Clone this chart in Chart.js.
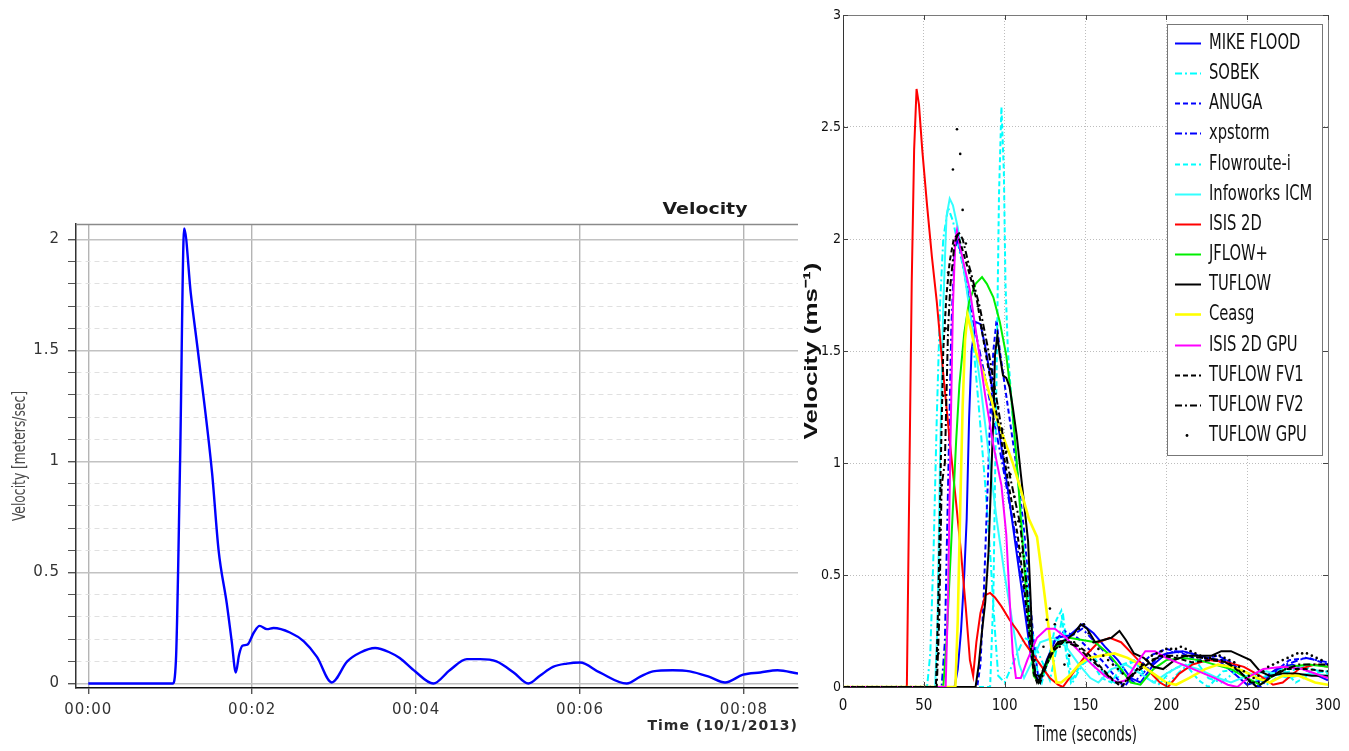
<!DOCTYPE html>
<html>
<head>
<meta charset="utf-8">
<script src="https://cdn.jsdelivr.net/npm/chart.js@4.4.1/dist/chart.umd.min.js"></script>
<style>
  body { margin: 0; background: #fff; }
  #gauge { position: absolute; left: 0; top: 180px; }
  #models { position: absolute; left: 800px; top: 0; }
</style>
</head>
<body>
<canvas id="gauge" width="800" height="571"></canvas>
<canvas id="models" width="549" height="751"></canvas>
<script>
// ---- left panel: measured velocity, x in minutes ----
const gaugeTitle = "Velocity";
const gaugeYTitle = "Velocity [meters/sec]";
const gaugeTimeLabels = ["00:00", "00:02", "00:04", "00:06", "00:08"];
const gaugeVelocityLabels = ["0", "0.5", "1", "1.5", "2"];
const gaugeVelocity = [
  [0, 0], [1.03, 0], [1.07, 0.11], [1.12, 1.0], [1.17, 2.05], [1.25, 1.76], [1.34, 1.49],
  [1.51, 0.95], [1.59, 0.6], [1.69, 0.36], [1.75, 0.19], [1.8, 0.05], [1.84, 0.13], [1.88, 0.17],
  [1.94, 0.175], [2.02, 0.23], [2.09, 0.26], [2.18, 0.245], [2.26, 0.25], [2.46, 0.23], [2.63, 0.19],
  [2.79, 0.12], [2.97, 0.005], [3.16, 0.1], [3.32, 0.14], [3.5, 0.16], [3.68, 0.14], [3.8, 0.115],
  [3.99, 0.054], [4.21, 0], [4.41, 0.06], [4.62, 0.11], [4.78, 0.11], [4.98, 0.1], [5.19, 0.05],
  [5.37, 0], [5.51, 0.035], [5.67, 0.075], [5.84, 0.09], [6.0, 0.095], [6.24, 0.05], [6.57, 0],
  [6.73, 0.03], [6.89, 0.055], [7.13, 0.06], [7.34, 0.055], [7.58, 0.03], [7.77, 0.005],
  [7.99, 0.04], [8.2, 0.05], [8.41, 0.06], [8.66, 0.045]
];

// ---- right panel: model results, x in seconds ----
const modelXTitle = "Time (seconds)";
const modelYTitle = "Velocity (ms⁻¹)";
const modelVelocityLabels = ["0", "0.5", "1", "1.5", "2", "2.5", "3"];
const modelNames = ["MIKE FLOOD", "SOBEK", "ANUGA", "xpstorm", "Flowroute-i", "Infoworks ICM", "ISIS 2D",
  "JFLOW+", "TUFLOW", "Ceasg", "ISIS 2D GPU", "TUFLOW FV1", "TUFLOW FV2", "TUFLOW GPU"];

const mikeFlood = [[0,0],[69,0],[71,0.08],[73,0.25],[75,0.5],[76.5,0.75],[78,1.2],[79.5,1.5],[82,1.63],[85,1.62],[88,1.52],[92,1.35],[97,1.12],[102,0.88],[107,0.62],[112,0.36],[116,0.15],[119,0.05],[122,0.02],[126,0.12],[132,0.22],[140,0.23],[148,0.28],[155,0.24],[162,0.18],[170,0.12],[178,0.04],[184,0.02],[192,0.1],[200,0.15],[210,0.16],[220,0.14],[232,0.12],[242,0.06],[250,0.01],[258,0.03],[268,0.08],[278,0.1],[288,0.07],[300,0.03]];
const sobek = [[0,0],[52,0],[54,0.15],[56,0.6],[58,1.2],[60,1.7],[62,2.0],[65,2.14],[68,2.08],[72,1.95],[78,1.75],[84,1.25],[88,0.9],[91,0.6],[94,0.25],[96,0.05],[100,0.02],[106,0.12],[112,0.22],[118,0.2],[124,0.1],[128,0.03],[133,0.2],[136,0.33],[139,0.15],[142,0.02],[148,0.1],[155,0.14],[162,0.05],[168,0.02],[175,0.1],[183,0.12],[192,0.05],[200,0.01],[210,0.08],[218,0.12],[226,0.04],[234,0.02],[245,0.08],[255,0.05],[262,0.01],[272,0.06],[285,0.09],[300,0.06]];
const anuga = [[0,0],[83,0],[85,0.1],[87,0.4],[89,0.8],[91,1.2],[93,1.5],[95,1.64],[97,1.5],[100,1.35],[104,1.15],[108,0.95],[112,0.7],[115,0.45],[118,0.2],[121,0.03],[124,0.05],[130,0.2],[137,0.25],[145,0.22],[152,0.17],[160,0.12],[168,0.05],[174,0],[182,0.08],[190,0.14],[200,0.17],[210,0.15],[220,0.12],[232,0.14],[242,0.1],[250,0.03],[258,0],[266,0.06],[276,0.12],[288,0.13],[300,0.1]];
const xpstorm = [[0,0],[61,0],[63,0.2],[65,0.9],[67,1.6],[69,1.95],[71,2.0],[74,1.9],[78,1.72],[83,1.55],[88,1.38],[93,1.2],[98,1.02],[103,0.82],[108,0.62],[112,0.42],[115,0.25],[118,0.08],[121,0.02],[126,0.1],[133,0.2],[140,0.22],[148,0.26],[156,0.2],[164,0.14],[172,0.07],[180,0.02],[188,0.08],[196,0.14],[206,0.16],[216,0.15],[226,0.12],[238,0.12],[248,0.05],[256,0],[264,0.05],[274,0.1],[286,0.13],[300,0.11]];
const flowroute = [[0,0],[91,0],[93,0.4],[95,1.4],[96.5,2.2],[98,2.59],[99.5,2.3],[100.5,1.8],[102,1.5],[105,1.2],[108,0.95],[111,0.7],[114,0.45],[117,0.25],[120,0.08],[123,0.02],[128,0.15],[132,0.3],[135,0.34],[138,0.15],[141,0.02],[147,0.1],[153,0.12],[160,0.04],[166,0.02],[173,0.1],[180,0.12],[188,0.04],[195,0.01],[204,0.08],[212,0.1],[220,0.03],[226,0],[235,0.07],[245,0.08],[252,0.02],[262,0.05],[272,0.08],[280,0.02],[290,0.06],[300,0.07]];
const infoworks = [[0,0],[57,0],[58.5,0.3],[60,1.0],[62,1.7],[64,2.1],[66,2.18],[68,2.15],[71,2.05],[75,1.85],[80,1.6],[85,1.35],[90,1.05],[95,0.75],[100,0.5],[105,0.28],[109,0.1],[112,0.04],[116,0.1],[122,0.2],[130,0.22],[138,0.18],[146,0.1],[153,0.04],[158,0.02],[166,0.08],[175,0.1],[184,0.06],[192,0.02],[200,0.06],[210,0.1],[220,0.08],[232,0.04],[240,0.02],[250,0.05],[262,0.07],[275,0.04],[288,0.06],[300,0.05]];
const isis2d = [[0,0],[39.5,0],[41,0.9],[42.5,1.8],[44,2.4],[45.5,2.67],[47,2.6],[49,2.4],[52,2.15],[55,1.92],[58,1.72],[62,1.4],[66,1.1],[70,0.82],[73,0.6],[76,0.35],[78.5,0.12],[80.5,0.05],[82.5,0.2],[85,0.33],[88,0.41],[91,0.42],[94,0.4],[98,0.36],[103,0.3],[108,0.25],[113,0.19],[118,0.14],[123,0.09],[128,0.04],[133,0.01],[136,0],[142,0.06],[150,0.14],[158,0.2],[165,0.22],[172,0.2],[180,0.14],[188,0.08],[196,0.02],[201,0],[208,0.06],[216,0.1],[226,0.12],[238,0.11],[248,0.09],[258,0.05],[266,0.01],[272,0.02],[282,0.08],[292,0.1],[300,0.09]];
const jflow = [[0,0],[62,0],[64,0.2],[66,0.5],[68,0.8],[70,1.1],[72,1.35],[75,1.58],[78,1.72],[82,1.8],[86,1.83],[89,1.8],[93,1.74],[97,1.63],[101,1.48],[104,1.3],[107,1.05],[110,0.75],[113,0.45],[116,0.2],[118,0.05],[121,0.02],[126,0.1],[132,0.18],[140,0.22],[148,0.21],[156,0.2],[164,0.15],[172,0.08],[178,0.02],[184,0.01],[192,0.08],[200,0.12],[210,0.13],[220,0.12],[230,0.1],[240,0.08],[250,0.04],[258,0.01],[266,0.05],[276,0.09],[288,0.1],[300,0.09]];
const tuflow = [[0,0],[82,0],[84,0.1],[86,0.25],[88,0.38],[90,0.6],[91.5,0.9],[93,1.2],[94,1.48],[95.5,1.57],[97,1.48],[99,1.39],[101,1.38],[103,1.34],[105,1.25],[107.5,1.12],[110,0.95],[112,0.82],[114.5,0.65],[116,0.4],[117.5,0.12],[119,0.05],[121,0.02],[124,0.08],[128,0.15],[133,0.2],[138,0.21],[143,0.24],[147,0.28],[151,0.26],[156,0.2],[161,0.21],[166,0.22],[171,0.25],[175,0.21],[180,0.15],[186,0.13],[192,0.09],[198,0.08],[205,0.12],[212,0.14],[220,0.14],[228,0.14],[234,0.16],[240,0.16],[246,0.14],[252,0.12],[258,0.07],[264,0.05],[272,0.06],[280,0.06],[290,0.05],[300,0.05]];
const ceasg = [[0,0],[69.5,0],[71,0.3],[72.5,0.8],[74,1.25],[75.5,1.55],[77,1.66],[79,1.6],[82,1.5],[86,1.42],[91,1.3],[96,1.18],[101,1.08],[105,1.0],[110,0.88],[115,0.75],[120,0.67],[124,0.45],[128,0.22],[132,0.02],[135,0.02],[140,0.05],[146,0.1],[152,0.13],[160,0.14],[168,0.15],[176,0.13],[184,0.1],[192,0.06],[200,0.02],[206,0.01],[214,0.04],[224,0.08],[232,0.1],[240,0.09],[248,0.07],[256,0.04],[264,0.02],[272,0.05],[282,0.05],[292,0.02],[300,0.01]];
const isis2dGpu = [[0,0],[63.5,0],[65,0.4],[66.5,1.1],[68,1.7],[69.5,2.0],[70.5,2.04],[72,1.98],[75,1.88],[78.5,1.77],[83,1.55],[88,1.3],[93,1.08],[98,0.9],[101,0.68],[103,0.4],[105,0.15],[107,0.04],[110,0.04],[114,0.12],[120,0.22],[126,0.26],[131,0.26],[138,0.22],[146,0.16],[154,0.1],[162,0.05],[170,0.02],[175,0.03],[181,0.1],[187,0.16],[193,0.16],[200,0.13],[210,0.1],[220,0.07],[230,0.04],[238,0.01],[244,0],[252,0.05],[260,0.08],[272,0.09],[284,0.08],[292,0.06],[300,0.04]];
const tuflowFv1 = [[0,0],[57.5,0],[59,0.4],[60.5,1.0],[62,1.5],[64,1.75],[66,1.9],[68.5,2.0],[71,2.02],[74,1.95],[78,1.85],[83,1.72],[88,1.5],[93,1.3],[98,1.1],[103,0.88],[108,0.68],[112,0.45],[115,0.25],[118,0.06],[120,0.02],[124,0.08],[130,0.16],[136,0.2],[142,0.2],[150,0.16],[158,0.1],[166,0.04],[172,0],[180,0.06],[188,0.1],[196,0.14],[206,0.13],[216,0.11],[228,0.12],[238,0.11],[248,0.05],[256,0],[264,0.04],[274,0.08],[286,0.08],[300,0.07]];
const tuflowFv2 = [[0,0],[58,0],[59.5,0.3],[61,0.9],[63,1.0],[65,1.6],[66.5,1.8],[69,1.98],[71.5,2.03],[74,2.0],[78,1.88],[84.5,1.7],[90,1.5],[97,1.2],[103,0.95],[109.5,0.73],[113,0.5],[116,0.25],[119,0.06],[122,0.02],[126,0.1],[132,0.19],[138,0.2],[145,0.18],[152,0.13],[160,0.08],[168,0.02],[174,0.02],[182,0.08],[190,0.12],[200,0.14],[210,0.14],[222,0.13],[234,0.12],[244,0.08],[252,0.02],[260,0.02],[270,0.07],[282,0.1],[300,0.1]];
const tuflowGpu = [[0,0],[3,0],[6,0],[9,0],[12,0],[15,0],[18,0],[21,0],[24,0],[27,0],[30,0],[33,0],[36,0],[39,0],[42,0],[45,0],[48,0],[51,0],[54,0],[57,0],
  [59,0.15],[60,0.5],[61,0.9],[62,1.3],[63.5,1.6],[65,1.85],[68,2.31],[70.5,2.49],[72.5,2.38],[74,2.13],
  [76,1.98],[78.5,1.86],[81,1.77],[83.5,1.7],[86,1.6],[88.5,1.5],[91,1.42],[93.5,1.34],[96,1.25],[98.5,1.15],[101,1.05],[103.5,0.95],[106,0.85],[108.5,0.74],[111,0.6],[113.5,0.45],[116,0.3],[118.5,0.12],
  [121,0.05],[124,0.18],[126,0.3],[128,0.35],[131,0.28],[134,0.18],[137,0.1],[140,0.14],[143,0.2],[146,0.26],[149,0.28],[152,0.24],[155,0.2],[158,0.17],[161,0.14],[164,0.12],[167,0.1],[170,0.08],[173,0.06],[176,0.04],[179,0.05],[182,0.08],[185,0.1],[188,0.12],[191,0.14],[194,0.15],[197,0.16],[200,0.17],[203,0.17],[206,0.17],[209,0.18],[212,0.17],[215,0.16],[218,0.15],[221,0.14],[224,0.13],[227,0.13],[230,0.14],[233,0.14],[236,0.13],[239,0.12],[242,0.11],[245,0.09],[248,0.07],[251,0.05],[254,0.04],[257,0.05],[260,0.07],[263,0.09],[266,0.1],[269,0.11],[272,0.12],[275,0.13],[278,0.14],[281,0.15],[284,0.15],[287,0.15],[290,0.14],[293,0.13],[296,0.12],[300,0.1]];

const modelSeries = [mikeFlood, sobek, anuga, xpstorm, flowroute, infoworks, isis2d, jflow, tuflow, ceasg, isis2dGpu, tuflowFv1, tuflowFv2, tuflowGpu];

// line styles, matlab-ish
const DASH = [5, 3], DASHDOT = [7, 3, 2, 3];
const modelStyle = [
  { color: "#0000ff", dash: [] }, { color: "#00ffff", dash: DASHDOT }, { color: "#0000ff", dash: DASH },
  { color: "#0000ff", dash: DASHDOT }, { color: "#00ffff", dash: DASH }, { color: "#33ffff", dash: [] },
  { color: "#ff0000", dash: [] }, { color: "#00ee00", dash: [] }, { color: "#000000", dash: [] },
  { color: "#ffff00", dash: [], width: 2.6 }, { color: "#ff00ff", dash: [] }, { color: "#000000", dash: DASH },
  { color: "#000000", dash: DASHDOT }, { color: "#000000", dots: true }
];

const narrow = '"Liberation Sans Narrow", "Arial Narrow", "DejaVu Sans Condensed", "Liberation Sans", sans-serif';
const wide = '"DejaVu Sans", Verdana, sans-serif';
const isMajor = (c) => c.tick && Math.round(c.tick.value * 10) % 5 === 0;

// squeeze/stretch text along its baseline to a given length
function fitText(ctx, text, x, y, len, rotate) {
  ctx.save();
  ctx.translate(x, y);
  if (rotate) ctx.rotate(-Math.PI / 2);
  ctx.scale(len / ctx.measureText(text).width, 1);
  ctx.textAlign = "center";
  ctx.textBaseline = "middle";
  ctx.fillText(text, 0, 0);
  ctx.restore();
}

// top border, bold title and y title of the left panel
const gaugeFrame = {
  id: "gaugeFrame",
  beforeDraw(chart) { chart.ctx.letterSpacing = "1px"; },
  afterDraw(chart) {
    const { ctx, chartArea: a } = chart;
    ctx.save();
    ctx.strokeStyle = "#8a8a8a";
    ctx.lineWidth = 1.5;
    ctx.beginPath();
    ctx.moveTo(a.left, a.top + 0.5);
    ctx.lineTo(a.right, a.top + 0.5);
    ctx.stroke();
    ctx.letterSpacing = "0px";
    ctx.font = "bold 15px " + wide;
    ctx.fillStyle = "#1a1a1a";
    fitText(ctx, gaugeTitle, a.right - 93, a.top - 14, 85, false);
    ctx.font = "18px " + narrow;
    ctx.fillStyle = "#4a4a4a";
    fitText(ctx, gaugeYTitle, 20, (a.top + a.bottom) / 2, 130, true);
    ctx.restore();
  }
};

new Chart(document.getElementById("gauge"), {
  type: "line",
  data: {
    datasets: [{
      label: gaugeTitle,
      data: gaugeVelocity,
      borderColor: "#0000ff",
      borderWidth: 2.4,
      pointRadius: 0,
      cubicInterpolationMode: "monotone"
    }]
  },
  options: {
    responsive: false,
    animation: false,
    layout: { padding: { top: 44, right: 2, left: 0, bottom: 0 } },
    plugins: { legend: { display: false }, tooltip: { enabled: false } },
    scales: {
      x: {
        type: "linear",
        min: -0.15,
        max: 8.66,
        ticks: {
          stepSize: 2,
          includeBounds: false,
          autoSkip: false,
          maxRotation: 0,
          color: "#333",
          padding: 7,
          font: { family: wide, size: 15 },
          callback: (v) => gaugeTimeLabels[Math.round(v / 2)] ?? ""
        },
        grid: { color: "#b4b4b4", lineWidth: 1.4, tickColor: "#555", tickLength: 6 },
        border: { color: "#111", width: 1.5 },
        title: {
          display: true,
          text: "Time (10/1/2013)",
          align: "end",
          color: "#2a2a2a",
          font: { family: wide, size: 14, weight: "bold" },
          padding: { top: 0, bottom: 16 }
        },
        afterFit(s) { s.height = 63; s.paddingLeft = 0; s.paddingRight = 0; }
      },
      y: {
        min: -0.02,
        max: 2.07,
        ticks: {
          stepSize: 0.1,
          includeBounds: false,
          autoSkip: false,
          color: "#333",
          padding: 8,
          font: { family: wide, size: 15 },
          callback: (v) => {
            const k = Math.round(v * 10);
            return k % 5 === 0 ? gaugeVelocityLabels[k / 5] : "";
          }
        },
        grid: {
          color: (c) => isMajor(c) ? "#c2c2c2" : "#e0e0e0",
          lineWidth: (c) => isMajor(c) ? 1.4 : 1,
          tickColor: "#555",
          tickLength: 8
        },
        border: { color: "#333", width: 1.5, dash: (c) => isMajor(c) ? [] : [5, 4] },
        afterFit(s) { s.width = 76; s.paddingTop = 0; s.paddingBottom = 0; }
      }
    }
  },
  plugins: [gaugeFrame]
});

// box, inward ticks, axis titles and legend for the right panel
const modelFrame = {
  id: "modelFrame",
  afterDraw(chart) {
    const { ctx, chartArea: a, scales: { x, y } } = chart;
    ctx.save();
    ctx.strokeStyle = "#7a7a7a";
    ctx.lineWidth = 1;
    ctx.beginPath();
    ctx.moveTo(a.left, a.top + 0.5);
    ctx.lineTo(a.right + 0.5, a.top + 0.5);
    ctx.lineTo(a.right + 0.5, a.bottom);
    ctx.stroke();

    ctx.strokeStyle = "#444";
    ctx.beginPath();
    y.ticks.forEach((t) => {
      const py = Math.round(y.getPixelForValue(t.value)) + 0.5;
      ctx.moveTo(a.left, py); ctx.lineTo(a.left + 5, py);
      ctx.moveTo(a.right, py); ctx.lineTo(a.right - 5, py);
    });
    x.ticks.forEach((t) => {
      const px = Math.round(x.getPixelForValue(t.value)) + 0.5;
      ctx.moveTo(px, a.bottom); ctx.lineTo(px, a.bottom - 5);
      ctx.moveTo(px, a.top); ctx.lineTo(px, a.top + 5);
    });
    ctx.stroke();

    // axis titles
    ctx.fillStyle = "#111";
    ctx.font = "22px " + narrow;
    fitText(ctx, modelXTitle, (a.left + a.right) / 2, a.bottom + 48, 103, false);
    ctx.font = 'bold 19px "Liberation Sans", Arial, sans-serif';
    fitText(ctx, modelYTitle, 12, (a.top + a.bottom) / 2, 177, true);

    // legend box
    const w = 155, h = 431;
    const x0 = a.right - 6 - w, y0 = a.top + 9;
    ctx.fillStyle = "#fff";
    ctx.fillRect(x0, y0, w, h);
    ctx.strokeStyle = "#777";
    ctx.lineWidth = 1;
    ctx.strokeRect(x0 + 0.5, y0 + 0.5, w, h);
    ctx.font = "21px " + narrow;
    ctx.textBaseline = "middle";
    ctx.textAlign = "left";
    chart.data.datasets.forEach((ds, i) => {
      const cy = Math.round(y0 + 19 + i * 30.15) + 0.5;
      const st = modelStyle[i];
      if (st.dots) {
        ctx.fillStyle = st.color;
        ctx.beginPath();
        ctx.arc(x0 + 20, cy, 1.4, 0, Math.PI * 2);
        ctx.fill();
      } else {
        ctx.strokeStyle = st.color;
        ctx.lineWidth = st.width || 2;
        ctx.setLineDash(st.dash);
        ctx.beginPath();
        ctx.moveTo(x0 + 8, cy);
        ctx.lineTo(x0 + 34, cy);
        ctx.stroke();
        ctx.setLineDash([]);
      }
      ctx.fillStyle = "#111";
      ctx.fillText(ds.label, x0 + 42, cy, ctx.measureText(ds.label).width * 0.78);
    });
    ctx.restore();
  }
};

new Chart(document.getElementById("models"), {
  type: "line",
  data: {
    datasets: modelSeries.map((pts, i) => {
      const st = modelStyle[i];
      return {
        label: modelNames[i],
        data: pts,
        borderColor: st.color,
        backgroundColor: st.color,
        borderWidth: st.width || 2,
        borderDash: st.dash || [],
        showLine: !st.dots,
        pointRadius: st.dots ? 1.3 : 0,
        pointBorderWidth: 0,
        pointBackgroundColor: st.color,
        tension: 0,
        order: modelSeries.length - i
      };
    })
  },
  options: {
    responsive: false,
    animation: false,
    layout: { padding: { top: 15, right: 21, left: 0, bottom: 0 } },
    plugins: { legend: { display: false }, tooltip: { enabled: false } },
    scales: {
      x: {
        type: "linear",
        min: 0,
        max: 300,
        ticks: {
          stepSize: 50,
          maxRotation: 0,
          color: "#111",
          padding: 10,
          font: { family: narrow, size: 15 }
        },
        grid: { color: "#bdbdbd", lineWidth: 1, drawTicks: false },
        border: { color: "#333", width: 1, dash: [1, 2] },
        afterFit(s) { s.height = 64; s.paddingLeft = 0; s.paddingRight = 0; }
      },
      y: {
        min: 0,
        max: 3,
        ticks: {
          stepSize: 0.5,
          color: "#111",
          padding: 2,
          font: { family: narrow, size: 14 },
          callback: (v) => modelVelocityLabels[Math.round(v * 2)] ?? ""
        },
        grid: { color: "#bdbdbd", lineWidth: 1, drawTicks: false },
        border: { color: "#333", width: 1, dash: [1, 2] },
        afterFit(s) { s.width = 43; s.paddingTop = 0; s.paddingBottom = 0; }
      }
    }
  },
  plugins: [modelFrame]
});
</script>
</body>
</html>
